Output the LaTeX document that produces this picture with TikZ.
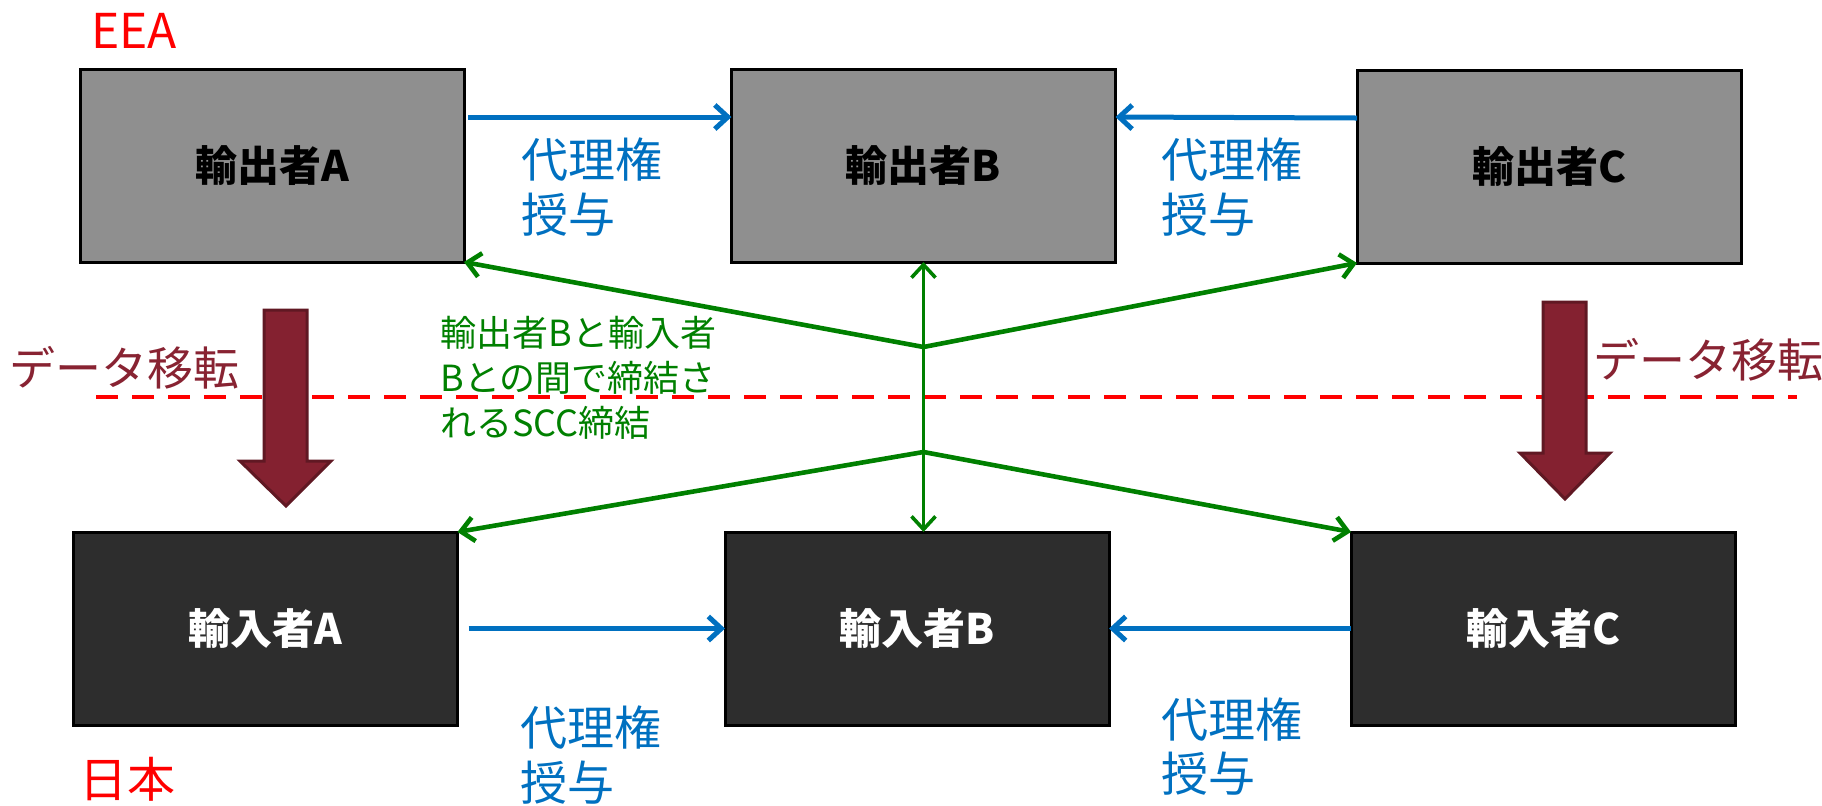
\documentclass[tikz,border=0pt]{standalone}
\usepackage{fontspec}
\setmainfont{Noto Sans CJK JP}
\usetikzlibrary{arrows.meta}
\definecolor{exfill}{RGB}{143,143,143}
\definecolor{imfill}{RGB}{45,45,45}
\definecolor{myblue}{RGB}{0,112,192}
\definecolor{mygreen}{RGB}{0,128,0}
\definecolor{myred}{RGB}{255,0,0}
\definecolor{arrfill}{RGB}{132,33,48}
\definecolor{arrline}{RGB}{96,24,35}
\definecolor{transtext}{RGB}{136,35,50}
\begin{document}
\begin{tikzpicture}[x=0.5pt,y=-0.5pt,
  exbox/.style={draw=black, line width=1.5pt, fill=exfill, minimum width=192pt, minimum height=96.5pt, inner sep=0pt, outer sep=0pt, font=\fontsize{21pt}{25pt}\selectfont\bfseries, text=black},
  imbox/.style={exbox, fill=imfill, text=white},
  proxy/.style={text=myblue, font=\fontsize{23.5pt}{28pt}\selectfont, anchor=base west, inner sep=0pt},
  region/.style={text=myred, font=\fontsize{24pt}{28pt}\selectfont, anchor=base west, inner sep=0pt},
  transfer/.style={text=transtext, font=\fontsize{23pt}{28pt}\selectfont, anchor=base west, inner sep=0pt},
  scc/.style={text=mygreen, font=\fontsize{18pt}{22.5pt}\selectfont, anchor=base west, inner sep=0pt},
  tip/.style={Straight Barb[length=6.5pt,width=12pt]},
  bluearr/.style={draw=myblue, line width=2.5pt, -{Straight Barb[length=6.5pt,width=12pt]}},
  grnarr/.style={draw=mygreen, line width=2.3pt, -{Straight Barb[length=6.5pt,width=12pt]}},
  grnvert/.style={draw=mygreen, line width=1.8pt, {Straight Barb[length=6.5pt,width=12pt]}-{Straight Barb[length=6.5pt,width=12pt]}},
  border/.style={draw=myred, line width=2pt, dash pattern=on 11pt off 7pt},
  bigarrow/.style={fill=arrfill, draw=arrline, line width=1.5pt, line join=miter}
]
\useasboundingbox (0,0) rectangle (1822,805);

% border line between EEA and Japan
\coordinate (dl) at (96,397);
\coordinate (dr) at (1797,397);
\draw[border] (dl) -- (dr);

% boxes
\node[exbox] (exA) at (272,165.5) {輸出者A};
\node[exbox] (exB) at (923.5,165.5) {輸出者B};
\node[exbox] (exC) at (1549,166.5) {輸出者C};
\node[imbox] (imA) at (265.5,628.5) {輸入者A};
\node[imbox] (imB) at (917,628.5) {輸入者B};
\node[imbox] (imC) at (1543,628.5) {輸入者C};

% region labels
\node[region] (eea) at (91,48) {EEA};
\node[region] (jp) at (79,797) {日本};

% proxy arrows
\draw[bluearr, shorten <=2pt] ([yshift=24.25pt]exA.east) -- ([yshift=24.25pt]exB.west);
\draw[bluearr] ([yshift=24.25pt]exC.west) -- ([yshift=24.25pt]exB.east);
\draw[bluearr, shorten <=5.5pt] (imA.east) -- (imB.west);
\draw[bluearr] (imC.west) -- (imB.east);

% proxy labels
\node[proxy] (p1a) at (521,177) {代理権};
\node[proxy] (p1b) at (521,232) {授与};
\node[proxy] (p2a) at (1161,177) {代理権};
\node[proxy] (p2b) at (1161,232) {授与};
\node[proxy] (p3a) at (520,745) {代理権};
\node[proxy] (p3b) at (520,800) {授与};
\node[proxy] (p4a) at (1161,737) {代理権};
\node[proxy] (p4b) at (1161,791) {授与};

% data transfer arrows
\draw[bigarrow] (264,310) -- (307,310) -- (307,461) -- (331,461) -- (286,506) -- (240,461) -- (264,461) -- cycle;
\draw[bigarrow] (1543,302) -- (1586,302) -- (1586,453) -- (1610,453) -- (1565,499) -- (1520,453) -- (1543,453) -- cycle;
\node[transfer] (t1) at (9,385) {データ移転};
\node[transfer] (t2) at (1593,377) {データ移転};

% SCC connectors
\coordinate (jt) at (923.5,347);
\coordinate (jb) at (923.5,452);
\draw[grnarr] (jt) -- (exA.south east);
\draw[grnarr] (jt) -- (exC.south west);
\draw[grnarr] (jb) -- (imA.north east);
\draw[grnarr] (jb) -- (imC.north west);
\draw[grnvert] (exB.south) -- (exB.south |- imB.north);

% SCC label
\node[scc] (s1) at (440,346) {輸出者Bと輸入者};
\node[scc] (s2) at (440,391) {Bとの間で締結さ};
\node[scc] (s3) at (440,436) {れるSCC締結};
\end{tikzpicture}
\end{document}
